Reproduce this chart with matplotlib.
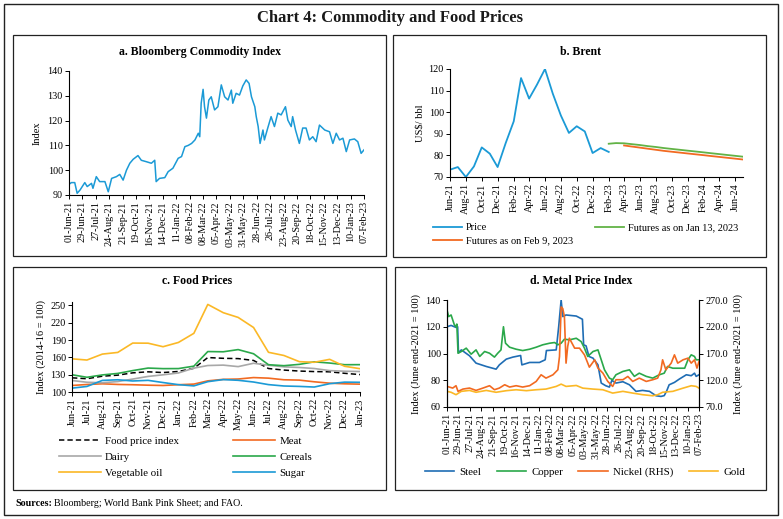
import matplotlib
matplotlib.use("Agg")
import matplotlib.pyplot as plt
from matplotlib.patches import Rectangle
import pandas as pd

plt.rcParams['font.family'] = ['Liberation Serif', 'DejaVu Serif']

W, H = 783, 519

# ---------------- data ----------------
# a. Bloomberg Commodity Index
bcom_dates = ['2021-06-01','2021-06-06','2021-06-13','2021-06-18','2021-06-24','2021-07-04','2021-07-09',
 '2021-07-18','2021-07-21','2021-07-28','2021-08-04','2021-08-15','2021-08-22','2021-08-29','2021-09-08',
 '2021-09-15','2021-09-22','2021-09-29','2021-10-06','2021-10-13','2021-10-23','2021-10-30','2021-11-10',
 '2021-11-20','2021-11-27','2021-11-30','2021-12-07','2021-12-18','2021-12-25','2022-01-04','2022-01-15',
 '2022-01-22','2022-01-29','2022-02-05','2022-02-12','2022-02-19','2022-02-26','2022-03-01','2022-03-04',
 '2022-03-08','2022-03-11','2022-03-15','2022-03-20','2022-03-25','2022-04-01','2022-04-08','2022-04-15',
 '2022-04-22','2022-04-29','2022-05-06','2022-05-09','2022-05-16','2022-05-23','2022-05-30','2022-06-06',
 '2022-06-12','2022-06-17','2022-06-24','2022-06-27','2022-07-01','2022-07-05','2022-07-11','2022-07-14',
 '2022-07-21','2022-07-28','2022-08-04','2022-08-11','2022-08-18','2022-08-27','2022-09-01','2022-09-08',
 '2022-09-11','2022-09-17','2022-09-25','2022-10-02','2022-10-09','2022-10-16','2022-10-23','2022-10-30',
 '2022-11-06','2022-11-17','2022-11-27','2022-12-04','2022-12-11','2022-12-18','2022-12-25','2023-01-01',
 '2023-01-08','2023-01-18','2023-01-25','2023-02-01','2023-02-07']
bcom_values = [94.3,95,95,90.7,92,95,93.4,94.7,92.7,97.4,95.4,95.4,91.3,96.7,97.4,98.3,96,100,102.8,104.4,
 105.9,104,103.4,102.8,104,95.4,96.7,97,99.4,100.8,104.8,105.5,109.5,110,110.8,112.2,114.9,113.5,127,132.6,
 125.6,121,128.3,129.6,124.3,125.6,134.4,129.6,128.3,132.3,127,131,130.3,134,136.4,135,129.6,125.6,121.6,
 117.6,110.8,116.2,112.2,117,121.6,117.6,123,122.3,125.6,120.2,117.6,121.6,116.2,110.8,117,117,112.2,113.5,
 111.5,118.2,116.2,115.5,110.8,114.9,112.2,112.9,107.5,112.2,112.6,111.5,106.8,108.2]

# b. Brent (US$/bbl, monthly)
brent_months = pd.date_range('2021-06-01', '2023-02-01', freq='MS')
brent_price = [73.4,74.6,70.0,74.9,83.7,80.8,74.6,85.7,95.8,115.8,106.3,112.7,120.0,108.6,98.5,90.4,93.5,
 91.1,81.1,83.4,81.6]
fut_jan_months = pd.date_range('2023-02-01', '2024-07-01', freq='MS')
fut_jan13 = [85.4,85.7,85.6,85.2,84.8,84.3,83.9,83.4,83.0,82.6,82.2,81.8,81.4,81.0,80.6,80.2,79.8,79.4]
fut_feb_months = pd.date_range('2023-04-01', '2024-07-01', freq='MS')
fut_feb9 = [84.6,84.1,83.6,83.1,82.6,82.1,81.7,81.3,80.9,80.5,80.1,79.7,79.3,78.9,78.5,78.1]

# c. Food prices (2014-16 = 100)
food_months = pd.date_range('2021-06-01', '2023-01-01', freq='MS')
food_index = [124.6,123.0,127.4,129.2,133.2,135.0,133.7,135.6,141.1,159.7,158.4,157.9,154.7,140.7,138.0,
 136.3,135.4,135.0,132.4,130.2]
meat = [111.3,113.0,114.2,113.1,112.6,111.8,111.3,112.6,113.7,119.3,121.9,122.5,125.0,124.0,121.2,120.6,
 117.7,115.3,114.2,113.6]
dairy = [119.9,116.9,116.0,118.1,122.4,127.0,129.8,133.0,141.4,145.9,146.6,144.0,149.8,146.4,143.6,142.5,
 140.7,137.1,136.0,135.5]
cereals = [129.9,125.5,129.6,132.2,137.1,141.5,140.5,140.6,144.8,170.1,169.7,173.5,166.3,147.3,145.6,147.9,
 152.3,150.2,147.3,147.4]
veg_oil = [157.5,155.4,165.7,168.6,184.8,184.6,178.5,185.9,201.7,251.8,237.5,229.3,211.8,168.8,163.3,152.6,
 151.5,156.6,144.6,140.4]
sugar = [106.7,109.6,120.1,121.2,119.1,120.2,116.4,112.7,110.6,117.9,121.5,120.3,117.3,112.8,110.4,109.7,
 108.6,114.4,117.1,116.8]

# d. Metal price index (June end-2021 = 100)
steel_dates = ['2021-06-01','2021-06-11','2021-06-23','2021-06-27','2021-06-29','2021-07-06','2021-07-26',
 '2021-08-11','2021-09-05','2021-09-29','2021-10-07','2021-10-24','2021-11-09','2021-11-28','2021-12-01',
 '2021-12-20','2022-01-13','2022-01-27','2022-01-30','2022-02-23','2022-03-01','2022-03-07','2022-03-11',
 '2022-03-19','2022-04-13','2022-04-28','2022-05-01','2022-05-07','2022-05-14','2022-05-24','2022-06-05',
 '2022-06-13','2022-06-24','2022-07-03','2022-07-09','2022-07-19','2022-08-05','2022-08-21','2022-09-06',
 '2022-09-22','2022-10-09','2022-10-25','2022-11-06','2022-11-14','2022-11-20','2022-11-26','2022-12-09',
 '2022-12-21','2023-01-07','2023-01-19','2023-01-27','2023-01-31','2023-02-07']
steel = [120,121,119.5,120,100.5,102.7,98.3,92.8,90.3,88.3,91.5,95.8,97.3,98.5,91.5,93.3,93.3,95.3,102.2,
 102.7,120,140,127.6,128.8,128,125.6,106.5,105.7,97.8,96.5,91.5,77.9,75.9,74.9,79.9,77.9,78.9,76.6,71.7,
 72.4,71.7,68.4,67.9,68.5,72,76.6,78.4,80.9,84.1,83.4,85.3,82.9,84.1]
copper_dates = ['2021-06-01','2021-06-05','2021-06-11','2021-06-19','2021-06-23','2021-06-25','2021-06-28',
 '2021-07-06','2021-07-18','2021-07-30','2021-08-11','2021-08-20','2021-09-01','2021-09-13','2021-09-25',
 '2021-10-03','2021-10-11','2021-10-17','2021-10-22','2021-11-01','2021-11-17','2021-12-03','2021-12-20',
 '2022-01-05','2022-01-21','2022-02-07','2022-02-19','2022-02-27','2022-03-07','2022-03-15','2022-03-27',
 '2022-04-13','2022-04-25','2022-05-03','2022-05-11','2022-05-24','2022-06-05','2022-06-13','2022-06-21',
 '2022-07-03','2022-07-11','2022-07-19','2022-08-05','2022-08-21','2022-09-02','2022-09-14','2022-10-01',
 '2022-10-17','2022-11-02','2022-11-14','2022-11-22','2022-12-05','2022-12-21','2023-01-03','2023-01-11',
 '2023-01-19','2023-01-27','2023-01-31','2023-02-07']
copper = [132.5,127.6,128.8,121.4,120,122,100.2,101.5,104,99.5,102.7,97.8,101.5,100.2,97.3,100.2,102.7,
 120,107.7,104.7,103.2,102.2,103.2,104.7,106.5,107.7,108.2,106.5,107.7,110.7,110.2,111.4,108.9,104,97.8,
 101.5,102.7,95.3,87.8,81.6,80.4,84.1,86.6,87.8,82.9,85.3,82.9,81.6,84.1,85.3,90.3,89,89,89,95.3,99,97.8,
 95.3,95.3]
nickel_dates = ['2021-06-01','2021-06-15','2021-06-23','2021-06-28','2021-07-10','2021-07-26','2021-08-11',
 '2021-08-28','2021-09-13','2021-09-25','2021-10-07','2021-10-20','2021-11-01','2021-11-17','2021-12-03',
 '2021-12-20','2022-01-05','2022-01-17','2022-01-29','2022-02-15','2022-02-27','2022-03-03','2022-03-07',
 '2022-03-11','2022-03-15','2022-03-19','2022-03-23','2022-03-27','2022-04-09','2022-04-21','2022-05-03',
 '2022-05-15','2022-05-28','2022-06-05','2022-06-17','2022-06-29','2022-07-11','2022-07-19','2022-08-05',
 '2022-08-17','2022-08-29','2022-09-14','2022-10-01','2022-10-17','2022-10-29','2022-11-06','2022-11-10',
 '2022-11-18','2022-12-01','2022-12-09','2022-12-17','2022-12-30','2023-01-11','2023-01-19','2023-01-27',
 '2023-02-02','2023-02-07']
nickel = [108.5,105.4,109.8,99.2,103.5,105.4,101,105.4,109.8,102.3,105.4,111.6,107.3,109.8,107.3,109.8,
 117.8,130.2,124,130.2,139.6,164.4,257,254,239,152,183,198.6,180,180,167.5,144.5,158.2,142.7,133.4,117.8,
 108.5,121,121,127.1,117.8,124,117.8,121,124,139.6,158.2,139.6,152,167.5,152,158.2,161.3,152,158.2,142.7,155]
gold_dates = ['2021-06-01','2021-06-11','2021-06-23','2021-07-06','2021-07-26','2021-08-11','2021-09-05',
 '2021-09-29','2021-10-24','2021-11-17','2021-12-12','2022-01-05','2022-01-29','2022-02-23','2022-03-07',
 '2022-03-19','2022-04-13','2022-04-29','2022-05-24','2022-06-17','2022-07-11','2022-08-05','2022-08-29',
 '2022-09-22','2022-10-17','2022-10-29','2022-11-10','2022-12-05','2022-12-30','2023-01-19','2023-01-31',
 '2023-02-07']
gold = [71.7,71,69.2,71.7,72.4,71,72.4,71,72.2,72.9,72.2,72.9,73.4,75.4,77.1,75.4,76.1,74.1,73.4,72.9,70.4,
 71.7,70.4,69.2,68.4,69.2,71,71.7,74.1,75.9,75.4,74.1]

# colours
C_BLUE = '#1b9ad6'
C_STEEL = '#1f6db4'
C_GREEN = '#2aa84a'
C_ORANGE = '#f26a21'
C_GOLD = '#fbb826'
C_GREY = '#a8a8a8'
C_FUTGREEN = '#62b346'

# ---------------- figure ----------------
fig = plt.figure(figsize=(W / 100, H / 100), dpi=100)


def fbox(l, t, r, b):
    return [l / W, 1 - b / H, (r - l) / W, (b - t) / H]


def frame(l, t, r, b, lw=0.9):
    x, y, w, h = fbox(l, t, r, b)
    fig.patches.append(Rectangle((x, y), w, h, transform=fig.transFigure, fill=False,
                                 edgecolor='#222222', linewidth=lw))


frame(4, 4, 778, 515, lw=1.0)
frame(13, 35, 386, 256)
frame(393, 35, 766, 257)
frame(13, 267, 386, 490)
frame(395, 267, 766, 490)

fig.text(390 / W, 1 - 18 / H, 'Chart 4: Commodity and Food Prices', ha='center', va='center',
         fontsize=12, fontweight='bold', color='#1a1a1a')
fig.text(200 / W, 1 - 52 / H, 'a. Bloomberg Commodity Index', ha='center', va='center', fontsize=8.5,
         fontweight='bold')
fig.text(580 / W, 1 - 52 / H, 'b. Brent', ha='center', va='center', fontsize=8.5, fontweight='bold')
fig.text(197 / W, 1 - 281 / H, 'c. Food Prices', ha='center', va='center', fontsize=8.5, fontweight='bold')
fig.text(581 / W, 1 - 281 / H, 'd. Metal Price Index', ha='center', va='center', fontsize=8.5,
         fontweight='bold')
t_src = fig.text(15 / W, 1 - 503 / H, 'Sources:', ha='left', va='center', fontsize=7.2, fontweight='bold')
fig.canvas.draw()
bb = t_src.get_window_extent()
fig.text((bb.x1 + 2) / W, 1 - 503 / H, 'Bloomberg; World Bank Pink Sheet; and FAO.', ha='left', va='center',
         fontsize=7.2)

TICK_FS = 7.3


def style(ax, right=False):
    for s in ['top', 'right']:
        ax.spines[s].set_visible(False)
    if right:
        ax.spines['right'].set_visible(True)
    for s in ax.spines.values():
        s.set_linewidth(0.8)
    ax.tick_params(axis='both', labelsize=TICK_FS, length=3, width=0.7, pad=1.5, direction='out')


# ---- a ----
ax_a = fig.add_axes(fbox(69, 71, 364, 195))
style(ax_a)
ax_a.plot(pd.to_datetime(bcom_dates), bcom_values, color=C_BLUE, lw=1.1)
ax_a.set_ylim(90, 140)
ax_a.set_yticks([90, 100, 110, 120, 130, 140])
ticks_a = pd.date_range('2021-06-01', '2023-02-07', freq='28D')
ax_a.set_xlim(ticks_a[0], ticks_a[-1])
ax_a.set_xticks(ticks_a)
ax_a.set_xticklabels([d.strftime('%d-%b-%y') for d in ticks_a], rotation=90)
ax_a.set_ylabel('Index', fontsize=7.5, labelpad=4)

# ---- b ----
ax_b = fig.add_axes(fbox(450, 69, 743, 177))
style(ax_b)
l_price, = ax_b.plot(brent_months, brent_price, color=C_BLUE, lw=1.3)
l_jan, = ax_b.plot(fut_jan_months, fut_jan13, color=C_FUTGREEN, lw=1.3)
l_feb, = ax_b.plot(fut_feb_months, fut_feb9, color=C_ORANGE, lw=1.3)
ax_b.set_ylim(70, 120)
ax_b.set_yticks([70, 80, 90, 100, 110, 120])
ticks_b = pd.date_range('2021-06-01', '2024-06-01', freq='2MS')
ax_b.set_xlim(pd.Timestamp('2021-06-01'), pd.Timestamp('2024-07-01'))
ax_b.set_xticks(ticks_b)
ax_b.set_xticklabels([d.strftime('%b-%y') for d in ticks_b], rotation=90)
ax_b.set_ylabel('US$/ bbl', fontsize=7.5, labelpad=3)
fig.legend([l_price, l_feb, l_jan], ['Price', 'Futures as on Feb 9, 2023', 'Futures as on Jan 13, 2023'],
           ncol=2, loc='upper left', bbox_to_anchor=(433 / W, 1 - 223 / H), frameon=False, fontsize=7.5,
           borderpad=0, borderaxespad=0, handlelength=2.8, handletextpad=0.35, columnspacing=2.1,
           labelspacing=0.4)

# ---- c ----
ax_c = fig.add_axes(fbox(72, 302, 360, 392))
style(ax_c)
lc1, = ax_c.plot(food_months, food_index, color='black', lw=1.1, ls=(0, (3.5, 2)))
lc2, = ax_c.plot(food_months, meat, color=C_ORANGE, lw=1.2)
lc3, = ax_c.plot(food_months, dairy, color=C_GREY, lw=1.2)
lc4, = ax_c.plot(food_months, cereals, color=C_GREEN, lw=1.2)
lc5, = ax_c.plot(food_months, veg_oil, color=C_GOLD, lw=1.2)
lc6, = ax_c.plot(food_months, sugar, color=C_BLUE, lw=1.2)
ax_c.set_ylim(100, 256)
ax_c.set_yticks([100, 130, 160, 190, 220, 250])
ax_c.set_xlim(food_months[0], food_months[-1])
ax_c.set_xticks(food_months)
ax_c.set_xticklabels([d.strftime('%b-%y') for d in food_months], rotation=90)
ax_c.set_ylabel('Index (2014-16 = 100)', fontsize=7.5, labelpad=3)
fig.legend([lc1, lc3, lc5, lc2, lc4, lc6], ['Food price index', 'Dairy', 'Vegetable oil', 'Meat', 'Cereals',
           'Sugar'], ncol=2, loc='upper left', bbox_to_anchor=(59 / W, 1 - 436 / H), frameon=False,
           fontsize=7.8, borderpad=0, borderaxespad=0, handlelength=3.9, handletextpad=0.35,
           columnspacing=5.0, labelspacing=0.6)

# ---- d ----
ax_d = fig.add_axes(fbox(447, 300, 699, 407))
style(ax_d, right=True)
ax_d2 = ax_d.twinx()
style(ax_d2, right=True)
ld1, = ax_d.plot(pd.to_datetime(steel_dates), steel, color=C_STEEL, lw=1.2)
ld2, = ax_d.plot(pd.to_datetime(copper_dates), copper, color=C_GREEN, lw=1.2)
ld4, = ax_d.plot(pd.to_datetime(gold_dates), gold, color=C_GOLD, lw=1.2)
ld3, = ax_d2.plot(pd.to_datetime(nickel_dates), nickel, color=C_ORANGE, lw=1.2)
ax_d.set_ylim(60, 140)
ax_d.set_yticks([60, 80, 100, 120, 140])
ax_d2.set_ylim(70, 270)
ax_d2.set_yticks([70, 120, 170, 220, 270])
ax_d2.set_yticklabels([f'{v:.1f}' for v in [70, 120, 170, 220, 270]])
ax_d.set_xlim(ticks_a[0], ticks_a[-1])
ax_d.set_xticks(ticks_a)
ax_d.set_xticklabels([d.strftime('%d-%b-%y') for d in ticks_a], rotation=90)
ax_d.set_ylabel('Index (June end-2021 = 100)', fontsize=7.5, labelpad=3)
ax_d2.set_ylabel('Index (June end-2021 = 100)', fontsize=7.5, labelpad=4)
fig.legend([ld1, ld2, ld3, ld4], ['Steel', 'Copper', 'Nickel (RHS)', 'Gold'], ncol=4, loc='upper left',
           bbox_to_anchor=(425 / W, 1 - 467 / H), frameon=False, fontsize=7.8, borderpad=0,
           borderaxespad=0, handlelength=2.7, handletextpad=0.5, columnspacing=1.4)

fig.savefig('out.png', dpi=100)
